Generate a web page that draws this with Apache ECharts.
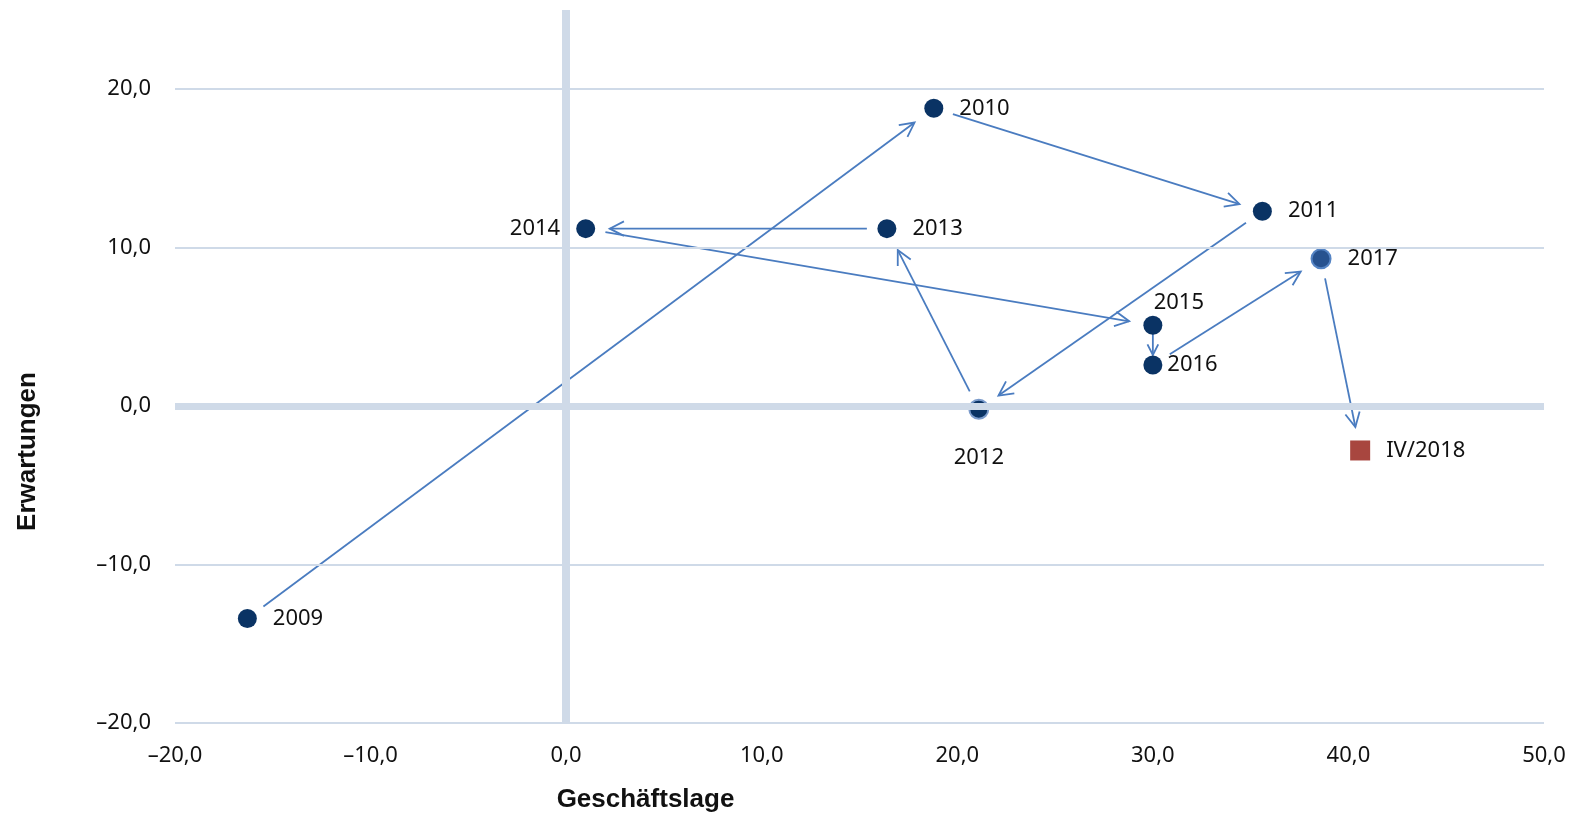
<!DOCTYPE html>
<html>
<head>
<meta charset="utf-8">
<title>Geschäftslage und Erwartungen</title>
<script src="https://cdn.jsdelivr.net/npm/echarts@6/dist/echarts.min.js"></script>
<style>
  html, body { margin: 0; padding: 0; background: #ffffff; }
  #chart { width: 1582px; height: 819px; }
</style>
</head>
<body>
<div id="chart"></div>
<script>
// ---- Data ----
const years = ['2009', '2010', '2011', '2012', '2013', '2014', '2015', '2016', '2017', 'IV/2018'];
const geschaeftslage = [-16.3, 18.8, 35.6, 21.1, 16.4, 1.0, 30.0, 30.0, 38.6, 40.6];
const erwartungen = [-13.4, 18.8, 12.3, -0.2, 11.2, 11.2, 5.1, 2.6, 9.3, -2.8];
const xTickValues = [-20, -10, 0, 10, 20, 30, 40, 50];
const yTickValues = [-20, -10, 0, 10, 20];
const xAxisTitle = 'Geschäftslage';
const yAxisTitle = 'Erwartungen';

// ---- Styles ----
const FONT = "'Noto Sans', 'Open Sans', sans-serif";
const navy = '#0a3364';
const arrowColor = '#4a7cc0';
const gridColor = '#cfdae8';
const redSquare = '#a8463f';

const labelStyle = {
  '2012': { position: 'bottom', distance: 27 },
  '2014': { position: 'left', distance: 16 },
  '2015': { position: 'top', distance: 2, offset: [26, 0] },
  '2016': { position: 'right', distance: 5 }
};
const markerStyle = {
  '2012': { color: navy, borderColor: '#7b9bcb', borderWidth: 2 },
  '2017': { color: '#27528f', borderColor: '#5584c4', borderWidth: 2 },
  'IV/2018': { color: redSquare }
};

function fmt(v) {
  return (v < 0 ? '\u2013' : '') + Math.abs(v).toFixed(1).replace('.', ',');
}

const pointData = years.map((name, i) => {
  const ls = labelStyle[name] || { position: 'right', distance: 16 };
  const ms = markerStyle[name] || { color: navy };
  const isSquare = name === 'IV/2018';
  return {
    name: name,
    value: [geschaeftslage[i], erwartungen[i]],
    symbol: isSquare ? 'rect' : 'circle',
    symbolSize: isSquare ? 20 : 19,
    itemStyle: Object.assign({ opacity: 1 }, ms),
    label: Object.assign({ show: true, formatter: name }, ls)
  };
});

const arrowData = years.slice(0, -1).map((_, i) => [
  geschaeftslage[i], erwartungen[i], geschaeftslage[i + 1], erwartungen[i + 1]
]);

const gridLines = yTickValues.filter(v => v !== 0).map(v => ({
  yAxis: v, lineStyle: { color: gridColor, width: 2, type: 'solid' }
}));
gridLines.push({ yAxis: 0, lineStyle: { color: gridColor, width: 7, type: 'solid' } });
gridLines.push({ xAxis: 0, lineStyle: { color: gridColor, width: 8, type: 'solid' } });

const chart = echarts.init(document.getElementById('chart'), null, { renderer: 'canvas' });

chart.setOption({
  animation: false,
  backgroundColor: '#ffffff',
  textStyle: { fontFamily: FONT },
  grid: { left: 175, right: 38, top: 10, bottom: 96, containLabel: false },
  xAxis: {
    type: 'value',
    min: xTickValues[0],
    max: xTickValues[xTickValues.length - 1],
    interval: xTickValues[1] - xTickValues[0],
    axisLine: { show: false },
    axisTick: { show: false },
    splitLine: { show: false },
    axisLabel: { formatter: fmt, fontSize: 22, color: '#111', fontFamily: FONT, margin: 22 },
    name: xAxisTitle,
    nameLocation: 'middle',
    nameGap: 64,
    nameTextStyle: {
      fontFamily: "'Liberation Sans', Arial, sans-serif",
      fontWeight: 'bold', fontSize: 26, color: '#111',
      padding: [0, 428, 0, 0]
    }
  },
  yAxis: {
    type: 'value',
    min: yTickValues[0],
    max: 25,
    interval: yTickValues[1] - yTickValues[0],
    axisLine: { show: false },
    axisTick: { show: false },
    splitLine: { show: false },
    axisLabel: { formatter: fmt, fontSize: 22, color: '#111', fontFamily: FONT, margin: 24, showMaxLabel: false },
    name: yAxisTitle,
    nameLocation: 'middle',
    nameGap: 134,
    nameTextStyle: {
      fontFamily: "'Liberation Sans', Arial, sans-serif",
      fontWeight: 'bold', fontSize: 26, color: '#111',
      padding: [0, 170, 0, 0]
    }
  },
  series: [
    {
      type: 'line',
      data: [],
      z: 1,
      silent: true,
      markLine: {
        silent: true,
        symbol: ['none', 'none'],
        label: { show: false },
        animation: false,
        data: gridLines
      }
    },
    {
      type: 'custom',
      z: 2,
      silent: true,
      clip: false,
      data: arrowData,
      encode: { x: [0, 2], y: [1, 3] },
      renderItem: function (params, api) {
        const a = api.coord([api.value(0), api.value(1)]);
        const b = api.coord([api.value(2), api.value(3)]);
        const dx = b[0] - a[0], dy = b[1] - a[1];
        const len = Math.hypot(dx, dy);
        const ux = dx / len, uy = dy / len;
        const g0 = Math.min(20, len * 0.22);
        const g1 = Math.min(24, len * 0.25);
        const s = [a[0] + ux * g0, a[1] + uy * g0];
        const e = [b[0] - ux * g1, b[1] - uy * g1];
        const L = Math.min(16, len * 0.3);
        const ang = 27 * Math.PI / 180;
        const bx = -ux, by = -uy;
        const c = Math.cos(ang), sn = Math.sin(ang);
        const w1 = [e[0] + L * (bx * c - by * sn), e[1] + L * (bx * sn + by * c)];
        const w2 = [e[0] + L * (bx * c + by * sn), e[1] + L * (-bx * sn + by * c)];
        const st = { stroke: arrowColor, lineWidth: 1.8, fill: null };
        return {
          type: 'group',
          children: [
            { type: 'line', shape: { x1: s[0], y1: s[1], x2: e[0], y2: e[1] }, style: st },
            { type: 'polyline', shape: { points: [w1, e, w2] }, style: st }
          ]
        };
      }
    },
    {
      type: 'scatter',
      z: 3,
      data: pointData,
      label: { show: true, fontSize: 22, color: '#111', fontFamily: FONT },
      emphasis: { disabled: true }
    }
  ]
});
</script>
</body>
</html>
